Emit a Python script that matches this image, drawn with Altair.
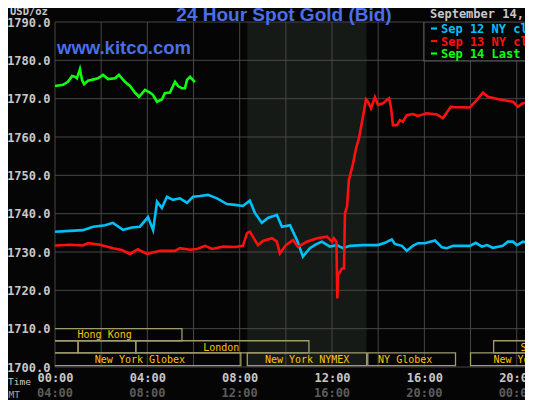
import altair as alt
import pandas as pd

# ---------------- data ----------------
sep12_hours = [0.0, 0.65, 1.21, 1.65, 2.17, 2.51, 2.95, 3.33, 3.68, 4.03, 4.25, 4.42, 4.63, 4.85,
               5.11, 5.41, 5.72, 5.98, 6.28, 6.63, 7.02, 7.45, 7.80, 8.14, 8.44, 8.66, 8.96, 9.22,
               9.44, 9.61, 9.83, 10.18, 10.48, 10.74, 11.04, 11.30, 11.56, 11.91, 12.21, 12.47,
               12.78, 13.34, 13.64, 13.99, 14.29, 14.59, 14.72, 15.03, 15.24, 15.50, 15.72, 16.02,
               16.46, 16.76, 16.98, 17.24, 17.97, 18.23, 18.49, 18.71, 18.97, 19.40, 19.62, 19.84,
               20.01, 20.27, 20.49, 20.70]
sep12_price = [1735.3, 1735.5, 1735.7, 1736.6, 1737.0, 1737.6, 1735.8, 1736.4, 1736.6, 1739.1,
               1735.7, 1743.1, 1741.5, 1744.4, 1743.6, 1744.0, 1742.8, 1744.4, 1744.6, 1744.9,
               1744.0, 1742.5, 1742.3, 1742.0, 1743.4, 1740.2, 1737.6, 1738.9, 1739.3, 1739.7,
               1736.6, 1737.0, 1733.1, 1728.8, 1731.0, 1732.0, 1732.7, 1731.4, 1731.8, 1731.0,
               1731.6, 1731.8, 1731.8, 1731.8, 1732.4, 1733.3, 1732.1, 1731.6, 1730.3, 1731.6,
               1732.3, 1732.3, 1733.0, 1731.2, 1731.0, 1731.6, 1731.6, 1732.4, 1731.4, 1731.8,
               1731.1, 1731.6, 1732.7, 1732.7, 1731.8, 1732.7, 1732.4, 1732.6]

sep13_hours = [0.0, 0.65, 1.21, 1.43, 1.95, 2.51, 2.90, 3.25, 3.59, 3.98, 4.55, 5.20, 5.41, 5.85,
               6.15, 6.50, 6.80, 7.28, 7.80, 8.14, 8.32, 8.44, 8.66, 8.79, 9.01, 9.40, 9.61, 9.74,
               10.00, 10.31, 10.52, 10.61, 10.91, 11.35, 11.78, 12.00, 12.08, 12.19, 12.23, 12.26,
               12.43, 12.52, 12.56, 12.65, 12.73, 12.91, 13.04, 13.17, 13.34, 13.47, 13.56, 13.69,
               13.86, 13.99, 14.21, 14.47, 14.55, 14.64, 14.81, 14.94, 15.07, 15.24, 15.50, 15.72,
               16.11, 16.54, 16.80, 17.15, 17.24, 17.97, 18.28, 18.54, 18.75, 19.27, 19.84, 20.05,
               20.27, 20.70]
sep13_price = [1731.7, 1731.9, 1731.7, 1732.3, 1731.9, 1731.0, 1730.5, 1729.5, 1730.7, 1729.5,
               1730.3, 1730.3, 1731.0, 1730.6, 1730.8, 1731.6, 1730.8, 1731.4, 1731.3, 1731.6,
               1734.9, 1735.3, 1733.1, 1731.8, 1732.9, 1733.6, 1732.7, 1729.6, 1731.8, 1733.1,
               1731.4, 1731.6, 1732.7, 1733.6, 1734.0, 1732.7, 1733.6, 1732.7, 1717.9, 1724.0,
               1725.7, 1725.7, 1740.1, 1741.8, 1748.8, 1753.0, 1757.0, 1759.7, 1765.3, 1769.8,
               1769.2, 1767.5, 1770.4, 1768.4, 1768.8, 1770.1, 1767.9, 1763.1, 1763.1, 1764.4,
               1764.0, 1765.7, 1766.0, 1765.5, 1766.2, 1765.9, 1764.9, 1767.9, 1767.8, 1767.7,
               1769.7, 1771.6, 1770.5, 1769.8, 1769.2, 1767.9, 1768.8, 1769.2]

sep14_hours = [0.0, 0.35, 0.56, 0.74, 0.87, 0.95, 1.08, 1.17, 1.26, 1.43, 1.73, 1.86, 2.08, 2.30,
               2.60, 2.77, 3.03, 3.25, 3.46, 3.64, 3.90, 4.11, 4.24, 4.42, 4.63, 4.76, 4.98, 5.20,
               5.33, 5.50, 5.63, 5.72, 5.85, 6.06]
sep14_price = [1773.3, 1773.6, 1774.4, 1775.9, 1775.7, 1775.3, 1777.7, 1774.9, 1773.8, 1774.7,
               1775.1, 1775.3, 1776.2, 1775.1, 1775.3, 1776.2, 1774.4, 1773.3, 1771.6, 1770.5,
               1772.3, 1771.6, 1771.0, 1769.2, 1769.8, 1771.4, 1771.6, 1774.4, 1773.3, 1772.7,
               1772.7, 1774.9, 1775.7, 1774.3]

tick_hours = [0, 4, 8, 12, 16, 20]
gmt_labels = ["04:00", "08:00", "12:00", "16:00", "20:00", "00:00"]
grid_hours = [0, 2, 4, 6, 8, 10, 12, 14, 16, 18, 20]
grid_prices = [1700, 1710, 1720, 1730, 1740, 1750, 1760, 1770, 1780, 1790]

session_names = ["Hong Kong", "", "", "", "London", "Sydney",
                 "New York Globex", "New York NYMEX", "NY Globex", "New York Globex"]
session_row = [1, 1, 2, 2, 2, 2, 3, 3, 3, 3]
session_start = [-3.0, 20.5, -2.0, 1.0, 3.5, 19.0, -6.0, 8.33, 13.55, 18.0]
session_end = [5.5, 30.0, 1.0, 3.5, 11.0, 30.0, 8.05, 13.5, 17.35, 30.0]
session_label_hour = [2.15, 0, 0, 0, 7.2, 20.95, 3.68, 10.92, 15.17, 20.95]

nymex_start, nymex_end = 8.33, 13.5
legend_box_start = 15.98
legend_box_bottom = 1779.85

# ---------------- styling ----------------
MONO = "DejaVu Sans Mono"
SANS = "Liberation Sans"
BG = "#050505"
GRID = "#464646"
BOX = "#a09c6c"
SESS_TXT = "#ffc400"
LBL = "#c8c8c8"
C12, C13, C14 = "#00c0f8", "#ff1010", "#10ff10"

row_top = {1: 1710.0, 2: 1706.85, 3: 1703.7}
row_bot = {1: 1706.85, 2: 1703.7, 3: 1700.35}
row_txt = {1: 1707.45, 2: 1704.2, 3: 1700.98}

PLOT_W, PLOT_H = 470, 345
XD = [0, 20.36]
YD = [1700, 1790]
xs = alt.Scale(domain=XD, nice=False, zero=False)
ys = alt.Scale(domain=YD, nice=False, zero=False)

X_AX = alt.Axis(values=tick_hours, grid=False, ticks=False, domain=False, title=None,
                labelExpr="(datum.value < 10 ? '0' : '') + datum.value + ':00'",
                labelFont=MONO, labelFontSize=12, labelFontWeight="bold", labelColor=LBL,
                labelPadding=5, labelFlush=False, labelOverlap=False)
Y_AX = alt.Axis(values=grid_prices, format=".1f", grid=False, ticks=False, domain=False, title=None,
                labelFont=MONO, labelFontSize=12, labelFontWeight="bold", labelColor=LBL,
                labelPadding=5, labelFlush=False, labelOverlap=False)


def X(field):
    return alt.X(field, scale=xs, axis=X_AX)


def Y(field):
    return alt.Y(field, scale=ys, axis=Y_AX)


# ---------------- layers ----------------
shade_df = pd.DataFrame({"x": [nymex_start], "x2": [nymex_end], "y": [YD[0]], "y2": [YD[1]]})
shade = alt.Chart(shade_df).mark_rect(fill="#161a16").encode(
    x=X("x:Q"), x2="x2:Q", y=Y("y:Q"), y2="y2:Q")

vgrid = alt.Chart(pd.DataFrame({"x": grid_hours})).mark_rule(color=GRID, strokeWidth=1).encode(
    x=X("x:Q"))
hgrid = alt.Chart(pd.DataFrame({"y": grid_prices})).mark_rule(color=GRID, strokeWidth=1).encode(
    y=Y("y:Q"))

sess_df = pd.DataFrame({
    "name": session_names,
    "x": session_start,
    "x2": session_end,
    "y": [row_top[r] for r in session_row],
    "y2": [row_bot[r] for r in session_row],
    "ty": [row_txt[r] for r in session_row],
    "lx": session_label_hour,
})
sess_box = alt.Chart(sess_df).mark_rect(fillOpacity=0, stroke=BOX, strokeWidth=1.3, clip=True).encode(
    x=X("x:Q"), x2="x2:Q", y=Y("y:Q"), y2="y2:Q")
sess_txt = alt.Chart(sess_df).mark_text(font=MONO, fontSize=10, color=SESS_TXT, align="center",
                                        baseline="alphabetic", clip=True).encode(
    x=X("lx:Q"), y=Y("ty:Q"), text="name:N")


def line_layer(hours, prices, color):
    df = pd.DataFrame({"x": hours, "y": prices})
    return alt.Chart(df).mark_line(color=color, strokeWidth=2.6, clip=True,
                                   interpolate="linear").encode(x=X("x:Q"), y=Y("y:Q"))


l12 = line_layer(sep12_hours, sep12_price, C12)
l13 = line_layer(sep13_hours, sep13_price, C13)
l14 = line_layer(sep14_hours, sep14_price, C14)

lbox_df = pd.DataFrame({"x": [legend_box_start], "x2": [30.0], "y": [legend_box_bottom], "y2": [YD[1]]})
lbox = alt.Chart(lbox_df).mark_rect(fill=BG, stroke="#5a5a5a", strokeWidth=1.2, clip=True).encode(
    x=X("x:Q"), x2="x2:Q", y=Y("y:Q"), y2="y2:Q")


def txt(s, x, y, color, size, font=MONO, weight="bold", align="left"):
    return alt.Chart(pd.DataFrame({"t": [s]})).mark_text(
        font=font, fontSize=size, fontWeight=weight, color=color, align=align,
        baseline="alphabetic").encode(x=alt.value(x), y=alt.value(y), text="t:N")


def dash(y, color):
    return alt.Chart(pd.DataFrame({"t": [0]})).mark_rule(color=color, strokeWidth=2.2).encode(
        x=alt.value(376), x2=alt.value(382), y=alt.value(y))


texts = [
    txt("24 Hour Spot Gold (Bid)", 229, -1, "#4a6fe6", 19, font=SANS, weight="bold", align="center"),
    txt("www.kitco.com", 2, 32, "#4a6fe6", 18.5, font=SANS, weight="bold"),
    txt("USD/oz", -45, -7, LBL, 10.5),
    txt("September 14, 2012", 375, -4, LBL, 12),
    dash(6.5, C12),
    txt("Sep 12 NY close 1730.50", 386, 11, C12, 12),
    dash(19, C13),
    txt("Sep 13 NY close 1769.70", 386, 23.5, C13, 12),
    dash(31.5, C14),
    txt("Sep 14 Last 1774.40", 386, 36, C14, 12),
    txt("NY Time", -24, 363, LBL, 9.5, weight="normal", align="right"),
    txt("GMT", -35, 376, "#a8a8a8", 9.5, weight="normal", align="right"),
]

gmt = alt.Chart(pd.DataFrame({"x": tick_hours, "g": gmt_labels})).mark_text(
    font=MONO, fontSize=12, fontWeight="bold", color="#5c5c5c", align="center",
    baseline="alphabetic").encode(x=X("x:Q"), y=alt.value(375), text="g:N")

chart = alt.layer(
    shade, vgrid, hgrid, sess_box, sess_txt, l12, l13, l14, lbox, gmt, *texts
).properties(
    width=PLOT_W, height=PLOT_H,
    autosize=alt.AutoSizeParams(type="none"),
    padding={"left": 47, "top": 14, "right": 0, "bottom": 33},
    background=BG,
).configure_view(stroke=None)

chart.save("out.html", embed_options={"renderer": "svg", "actions": False})
